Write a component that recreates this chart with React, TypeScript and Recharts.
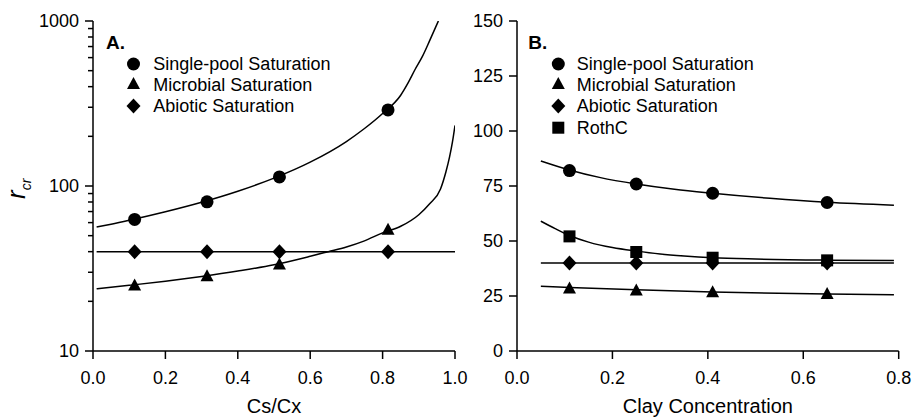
import React from 'react';
import { ComposedChart, Line, Scatter, XAxis, YAxis, Customized } from 'recharts';

const FONT = '"Liberation Sans", Arial, Helvetica, sans-serif';

// ---------- Panel A (Cs/Cx, log scale) ----------
const xTicksA = [0, 0.2, 0.4, 0.6, 0.8, 1.0];
const yTicksA = [10, 20, 30, 40, 50, 60, 70, 80, 90, 100, 200, 300, 400, 500, 600, 700, 800, 900, 1000];
const yMajorA = [10, 100, 1000];
const pointXA = [0.115, 0.315, 0.515, 0.815];
const singlePoolPtsA = [62.7, 80.2, 113.5, 289];
const microbialPtsA = [24.6, 28.0, 33.0, 53.5];
const abioticPtsA = [40, 40, 40, 40];
const singleCurveXA = [0.01, 0.05, 0.1, 0.2, 0.3, 0.4, 0.5, 0.6, 0.7, 0.75, 0.8, 0.85, 0.87, 0.89, 0.91, 0.93, 0.954];
const singleCurveYA = [56.4, 58.7, 62, 69.8, 79.7, 93, 111.6, 139.5, 186, 223, 275, 355, 420, 510, 610, 760, 1000];
const microCurveXA = [0.01, 0.1, 0.2, 0.3, 0.4, 0.5, 0.6, 0.65, 0.7, 0.75, 0.8, 0.85, 0.9, 0.93, 0.96, 0.975, 0.985, 0.993, 1.0];
const microCurveYA = [23.8, 25.0, 26.5, 28.3, 30.5, 33.3, 37.5, 40.0, 42.7, 46.5, 52.0, 57.0, 67, 78, 96, 122, 150, 185, 233];
const abioCurveXA = [0.01, 1.0];
const abioCurveYA = [40, 40];
const legendA = ['Single-pool Saturation', 'Microbial Saturation', 'Abiotic Saturation'];

// ---------- Panel B (Clay concentration, linear) ----------
const xTicksB = [0, 0.2, 0.4, 0.6, 0.8];
const yTicksB = [0, 25, 50, 75, 100, 125, 150];
const pointXB = [0.11, 0.25, 0.41, 0.65];
const singlePoolPtsB = [82.0, 75.9, 71.7, 67.5];
const microbialPtsB = [27.9, 27.1, 26.2, 25.4];
const abioticPtsB = [40, 40, 40, 40];
const rothCPtsB = [52.1, 45.0, 42.4, 41.2];
const singleCurveXB = [0.05, 0.11, 0.175, 0.25, 0.33, 0.41, 0.53, 0.65, 0.79];
const singleCurveYB = [86.4, 82.3, 78.8, 75.9, 73.5, 71.7, 69.4, 67.6, 66.3];
const microCurveXB = [0.05, 0.11, 0.25, 0.41, 0.65, 0.79];
const microCurveYB = [29.4, 28.9, 27.8, 26.8, 25.9, 25.6];
const rothCurveXB = [0.05, 0.08, 0.11, 0.15, 0.2, 0.25, 0.3, 0.35, 0.41, 0.5, 0.65, 0.79];
const rothCurveYB = [59.0, 55.6, 52.5, 49.5, 47.0, 45.4, 44.1, 43.2, 42.4, 41.8, 41.3, 41.1];
const abioCurveXB = [0.05, 0.79];
const abioCurveYB = [40, 40];
const legendB = ['Single-pool Saturation', 'Microbial Saturation', 'Abiotic Saturation', 'RothC'];

const toPts = (xs: number[], ys: number[]) => xs.map((x, i) => ({ x, y: ys[i] }));

// ---------- marker shapes ----------
const drawCircle = (cx: number, cy: number) => <circle cx={cx} cy={cy} r={6.5} fill="#000" />;
const drawTriangle = (cx: number, cy: number) => (
  <polygon points={`${cx},${cy - 8} ${cx - 6.5},${cy + 4} ${cx + 6.5},${cy + 4}`} fill="#000" />
);
const drawDiamond = (cx: number, cy: number) => (
  <polygon points={`${cx},${cy - 7.5} ${cx + 7},${cy} ${cx},${cy + 7.5} ${cx - 7},${cy}`} fill="#000" />
);
const drawSquare = (cx: number, cy: number) => <rect x={cx - 6} y={cy - 6} width={12} height={12} fill="#000" />;

const CircleShape = (p: any) => drawCircle(p.cx, p.cy);
const TriangleShape = (p: any) => drawTriangle(p.cx, p.cy);
const DiamondShape = (p: any) => drawDiamond(p.cx, p.cy);
const SquareShape = (p: any) => drawSquare(p.cx, p.cy);

const markers = [drawCircle, drawTriangle, drawDiamond, drawSquare];

const LogTick = (props: any) => {
  const { x, y, payload } = props;
  const v = payload.value;
  const major = yMajorA.includes(v);
  const len = major ? 8 : 5;
  return (
    <g>
      <line x1={x - len} x2={x} y1={y} y2={y} stroke="#000" strokeWidth={1.5} />
      {major && (
        <text x={x - 14} y={y} dy="0.355em" textAnchor="end" fontSize={18} fill="#000" fontFamily={FONT}>
          {v}
        </text>
      )}
    </g>
  );
};

const renderLegend = (labels: string[], markerX: number, textX: number, rows: number[]) =>
  labels.map((lab, i) => (
    <g key={lab}>
      {markers[i](markerX, rows[i])}
      <text x={textX} y={rows[i] + 6.4} fontSize={18} fill="#000" fontFamily={FONT}>
        {lab}
      </text>
    </g>
  ));

const OverlayA = () => (
  <g fontFamily={FONT}>
    <text x={106} y={49} fontSize={19} fontWeight="bold" fill="#000">A.</text>
    {renderLegend(legendA, 133.5, 153.3, [64, 85, 106])}
    <text transform="translate(24.5,199) rotate(-90)" fontSize={26} fontStyle="italic" fill="#000">
      r<tspan fontSize={14} dy={6}>cr</tspan>
    </text>
    <text x={274} y={413} textAnchor="middle" fontSize={20} fill="#000">Cs/Cx</text>
  </g>
);

const OverlayB = () => (
  <g fontFamily={FONT}>
    <text x={98.3} y={49} fontSize={19} fontWeight="bold" fill="#000">B.</text>
    {renderLegend(legendB, 128.3, 146.7, [64, 85, 106, 127.7])}
    <text x={277.9} y={413} textAnchor="middle" fontSize={20} fill="#000">Clay Concentration</text>
  </g>
);

const tickStyle = { fill: '#000', fontSize: 18, fontFamily: FONT };
const axisLine = { stroke: '#000', strokeWidth: 1.5 };

export default function App() {
  return (
    <div style={{ position: 'absolute', left: 0, top: 0, width: 915, height: 418, background: '#fff' }}>
      <div style={{ position: 'absolute', left: 0, top: 0 }}>
        <ComposedChart width={480} height={418} margin={{ top: 21, right: 25, bottom: 0, left: 0 }}>
          <XAxis
            type="number"
            dataKey="x"
            domain={[0, 1]}
            ticks={xTicksA}
            interval={0}
            tickFormatter={(v: number) => v.toFixed(1)}
            height={67}
            stroke="#000"
            axisLine={axisLine}
            tickLine={axisLine}
            tickSize={8}
            tickMargin={12}
            tick={tickStyle}
            allowDataOverflow
          />
          <YAxis
            type="number"
            dataKey="y"
            scale="log"
            domain={[10, 1000]}
            ticks={yTicksA}
            interval={0}
            width={93}
            stroke="#000"
            axisLine={axisLine}
            tickLine={false}
            tickSize={0}
            tickMargin={0}
            tick={<LogTick />}
            allowDataOverflow
          />
          <Line data={toPts(singleCurveXA, singleCurveYA)} dataKey="y" type="monotone" stroke="#000" strokeWidth={1.5} dot={false} isAnimationActive={false} legendType="none" />
          <Line data={toPts(microCurveXA, microCurveYA)} dataKey="y" type="monotone" stroke="#000" strokeWidth={1.5} dot={false} isAnimationActive={false} legendType="none" />
          <Line data={toPts(abioCurveXA, abioCurveYA)} dataKey="y" type="linear" stroke="#000" strokeWidth={1.5} dot={false} isAnimationActive={false} legendType="none" />
          <Scatter data={toPts(pointXA, singlePoolPtsA)} dataKey="y" shape={CircleShape} isAnimationActive={false} />
          <Scatter data={toPts(pointXA, microbialPtsA)} dataKey="y" shape={TriangleShape} isAnimationActive={false} />
          <Scatter data={toPts(pointXA, abioticPtsA)} dataKey="y" shape={DiamondShape} isAnimationActive={false} />
          <Customized component={OverlayA} />
        </ComposedChart>
      </div>
      <div style={{ position: 'absolute', left: 430, top: 0 }}>
        <ComposedChart width={485} height={418} margin={{ top: 21, right: 16.3, bottom: 0, left: 0 }}>
          <XAxis
            type="number"
            dataKey="x"
            domain={[0, 0.8]}
            ticks={xTicksB}
            interval={0}
            tickFormatter={(v: number) => v.toFixed(1)}
            height={67}
            stroke="#000"
            axisLine={axisLine}
            tickLine={axisLine}
            tickSize={8}
            tickMargin={12}
            tick={tickStyle}
            allowDataOverflow
          />
          <YAxis
            type="number"
            dataKey="y"
            domain={[0, 150]}
            ticks={yTicksB}
            interval={0}
            width={87}
            stroke="#000"
            axisLine={axisLine}
            tickLine={axisLine}
            tickSize={8}
            tickMargin={6}
            tick={tickStyle}
            allowDataOverflow
          />
          <Line data={toPts(singleCurveXB, singleCurveYB)} dataKey="y" type="monotone" stroke="#000" strokeWidth={1.5} dot={false} isAnimationActive={false} legendType="none" />
          <Line data={toPts(microCurveXB, microCurveYB)} dataKey="y" type="monotone" stroke="#000" strokeWidth={1.5} dot={false} isAnimationActive={false} legendType="none" />
          <Line data={toPts(rothCurveXB, rothCurveYB)} dataKey="y" type="monotone" stroke="#000" strokeWidth={1.5} dot={false} isAnimationActive={false} legendType="none" />
          <Line data={toPts(abioCurveXB, abioCurveYB)} dataKey="y" type="linear" stroke="#000" strokeWidth={1.5} dot={false} isAnimationActive={false} legendType="none" />
          <Scatter data={toPts(pointXB, singlePoolPtsB)} dataKey="y" shape={CircleShape} isAnimationActive={false} />
          <Scatter data={toPts(pointXB, microbialPtsB)} dataKey="y" shape={TriangleShape} isAnimationActive={false} />
          <Scatter data={toPts(pointXB, abioticPtsB)} dataKey="y" shape={DiamondShape} isAnimationActive={false} />
          <Scatter data={toPts(pointXB, rothCPtsB)} dataKey="y" shape={SquareShape} isAnimationActive={false} />
          <Customized component={OverlayB} />
        </ComposedChart>
      </div>
    </div>
  );
}
